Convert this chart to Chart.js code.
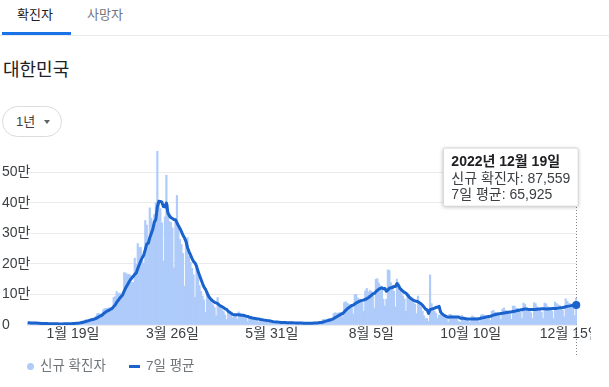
<!DOCTYPE html>
<html lang="ko">
<head>
<meta charset="utf-8">
<title>대한민국 확진자</title>
<script src="https://cdn.jsdelivr.net/npm/chart.js@4.4.1/dist/chart.umd.min.js"></script>
<style>
  html, body { margin: 0; padding: 0; background: #fff; }
  body {
    width: 609px; height: 387px; position: relative; overflow: hidden;
    font-family: Arial, "Noto Sans CJK KR", sans-serif; color: #202124;
  }
  .tabline { position: absolute; left: 0; top: 35px; width: 609px; height: 1px; background: #e8eaed; }
  .tabbar { position: absolute; left: 2px; top: 32px; width: 69px; height: 3px; background: #1a73e8; }
  .tab { position: absolute; top: 6px; font-size: 13px; line-height: 18px; }
  .tab.on { left: 17px; color: #202124; }
  .tab.off { left: 87px; color: #70757a; }
  .region { position: absolute; left: 3px; top: 58px; margin: 0; font-size: 18px; font-weight: normal; line-height: 24px; }
  .range {
    position: absolute; left: 2px; top: 106px; width: 58px; height: 29px;
    border: 1px solid #dadce0; border-radius: 16px; box-sizing: content-box;
  }
  .range span { position: absolute; left: 13px; top: 6px; font-size: 13px; line-height: 17px; color: #3c4043; }
  .range i {
    position: absolute; left: 41px; top: 13px; width: 0; height: 0;
    border-left: 3px solid transparent; border-right: 3px solid transparent; border-top: 4px solid #5f6368;
  }
  #wrap { position: absolute; left: 0; top: 135px; width: 591px; height: 225px; }
  .legend { position: absolute; left: 0; top: 357px; width: 609px; height: 18px; font-size: 13.5px; color: #70757a; }
  .legend .dot { position: absolute; left: 27px; top: 6px; width: 7px; height: 7px; border-radius: 50%; background: #aecbfa; }
  .legend .dash { position: absolute; left: 129px; top: 8px; width: 11px; height: 3px; background: #1a62cc; }
  .legend .lt { position: absolute; top: 0; line-height: 18px; white-space: nowrap; }
</style>
</head>
<body>
<div class="tab on">확진자</div>
<div class="tab off">사망자</div>
<div class="tabline"></div>
<div class="tabbar"></div>
<h1 class="region">대한민국</h1>
<div class="range"><span>1년</span><i></i></div>
<div id="wrap"><canvas id="cases"></canvas></div>
<div class="legend">
  <span class="dot"></span><span class="lt" style="left:40px">신규 확진자</span>
  <span class="dash"></span><span class="lt" style="left:146px">7일 평균</span>
</div>
<script>
// daily new cases, thousands, one value per day from 2021-12-20 to 2022-12-19
const newCases = [
  7.5, 7.5, 6.9, 6.2, 5.8, 5.4, 3.9,
  5.2, 5.4, 5.0, 4.9, 4.4, 3.8, 3.1,
  4.2, 4.4, 4.1, 3.7, 3.5, 3.4, 3.0,
  3.1, 4.4, 4.2, 4.5, 4.4, 4.2, 3.9,
  4.1, 5.8, 6.6, 6.8, 7.0, 7.6, 7.5,
  8.6, 13.0, 14.5, 16.1, 17.5, 17.5, 18.3,
  20.3, 20.9, 22.9, 27.4, 36.4, 38.7, 35.3,
  36.7, 49.6, 54.1, 53.9, 54.9, 56.4, 54.6,
  57.2, 90.4, 93.1, 109.8, 102.2, 104.8, 95.4,
  99.6, 171.5, 170.0, 165.9, 166.2, 163.6, 139.6,
  139.0, 219.2, 198.8, 266.9, 254.3, 254.0, 210.7,
  202.7, 342.4, 327.5, 283.0, 383.7, 350.2, 309.8,
  362.3, 400.7, 621.3, 407.0, 381.5, 334.7, 209.2,
  354.0, 490.9, 395.6, 339.5, 335.6, 318.1, 187.2,
  347.6, 424.6, 320.7, 280.3, 264.2, 234.3, 127.2,
  266.1, 286.3, 224.8, 205.3, 185.6, 164.5, 90.9,
  190.0, 170.0, 130.0, 110.0, 95.0, 82.0, 42.0,
  105.0, 98.0, 80.0, 71.0, 66.0, 57.0, 30.0,
  90.0, 66.0, 58.0, 50.0, 44.0, 33.0, 18.0,
  45.0, 43.0, 37.0, 24.0, 35.0, 33.0, 18.0,
  43.0, 38.0, 31.0, 26.0, 24.0, 22.0, 11.5,
  27.0, 29.0, 21.0, 20.0, 18.5, 16.0, 8.5,
  20.0, 19.0, 16.0, 14.0, 13.0, 10.5, 5.2,
  12.5, 11.5, 8.5, 10.5, 9.5, 8.3, 3.8,
  5.5, 11.0, 10.0, 8.5, 7.2, 6.3, 3.3,
  8.0, 8.5, 7.0, 6.0, 5.8, 5.2, 3.0,
  8.0, 7.8, 6.4, 6.2, 5.4, 5.0, 3.0,
  8.6, 9.2, 8.4, 8.3, 9.3, 8.8, 5.5,
  18.1, 19.3, 18.5, 19.3, 20.4, 20.3, 12.7,
  37.3, 40.3, 39.0, 38.9, 41.3, 40.3, 26.3,
  73.6, 76.4, 71.2, 68.6, 65.4, 65.4, 35.9,
  99.3, 100.3, 88.4, 85.3, 82.0, 73.6, 44.7,
  111.8, 119.9, 107.9, 112.9, 110.7, 105.5, 55.3,
  149.9, 151.8, 137.2, 128.7, 124.6, 85.3, 62.1,
  84.1, 180.8, 178.6, 138.8, 129.4, 110.7, 59.0,
  150.5, 139.3, 113.3, 103.9, 95.6, 85.3, 44.7,
  103.9, 100.3, 81.3, 78.7, 72.6, 68.3, 37.4,
  95.0, 75.0, 60.0, 45.0, 30.0, 20.0, 22.0,
  12.0, 164.0, 70.0, 55.0, 45.0, 38.0, 22.0,
  32.0, 34.0, 29.0, 29.0, 25.0, 22.0, 9.0,
  35.0, 34.0, 29.0, 27.0, 25.0, 22.0, 11.0,
  9.0, 32.0, 27.0, 22.0, 20.0, 18.0, 8.0,
  12.0, 30.0, 26.0, 24.0, 22.0, 19.0, 9.0,
  33.0, 35.0, 32.0, 31.0, 29.0, 26.0, 15.0,
  45.0, 48.0, 42.0, 40.0, 37.0, 31.0, 18.0,
  52.0, 56.0, 48.0, 46.0, 43.0, 36.0, 19.0,
  62.0, 62.0, 55.0, 55.0, 51.0, 43.0, 22.0,
  72.0, 68.0, 55.0, 50.0, 47.0, 40.0, 21.0,
  73.0, 70.0, 60.0, 55.0, 50.0, 42.0, 21.0,
  72.0, 69.0, 60.0, 58.0, 53.0, 45.0, 20.0,
  75.0, 70.0, 66.0, 64.0, 58.0, 48.0, 27.0,
  86.0, 78.0, 72.0, 70.0, 65.0, 58.0, 31.0,
  87.559
];

// 7-day average line, thousands, same days
const avg7 = [
  7.03, 6.97, 6.87, 6.70, 6.49, 6.37, 6.17,
  5.84, 5.54, 5.27, 5.09, 4.89, 4.66, 4.54,
  4.40, 4.26, 4.13, 3.96, 3.83, 3.77, 3.76,
  3.60, 3.60, 3.61, 3.73, 3.86, 3.97, 4.10,
  4.24, 4.44, 4.79, 5.11, 5.49, 5.97, 6.49,
  7.13, 8.16, 9.29, 10.61, 12.11, 13.53, 15.07,
  16.74, 17.87, 19.07, 20.69, 23.39, 26.41, 28.84,
  31.19, 35.29, 39.74, 43.53, 46.17, 48.70, 51.46,
  54.39, 60.21, 65.79, 73.77, 80.53, 87.44, 93.27,
  99.33, 110.91, 121.90, 129.91, 139.06, 147.46, 153.77,
  159.40, 166.21, 170.33, 184.76, 197.34, 210.26, 220.41,
  229.51, 247.11, 265.50, 267.80, 286.29, 300.03, 314.19,
  336.99, 345.31, 387.29, 405.00, 404.69, 402.47, 388.10,
  386.91, 399.80, 367.56, 357.91, 351.36, 348.99, 345.84,
  344.93, 335.46, 324.76, 316.30, 306.10, 294.13, 285.56,
  273.91, 254.16, 240.46, 229.74, 218.51, 208.54, 203.36,
  192.49, 175.87, 162.33, 148.71, 135.77, 123.99, 117.00,
  104.86, 94.57, 87.43, 81.86, 77.71, 74.14, 72.43,
  70.28, 65.71, 62.57, 59.57, 56.43, 53.00, 51.28,
  44.86, 41.57, 38.57, 34.86, 33.57, 33.57, 33.57,
  33.29, 32.57, 31.71, 32.00, 30.43, 28.86, 27.93,
  25.64, 24.36, 22.93, 22.07, 21.29, 20.43, 20.00,
  19.00, 17.57, 16.86, 16.00, 15.21, 14.43, 13.96,
  12.89, 11.81, 10.74, 10.24, 9.74, 9.43, 9.23,
  8.23, 8.16, 8.37, 8.09, 7.76, 7.47, 7.40,
  7.76, 7.40, 6.97, 6.61, 6.41, 6.26, 6.21,
  6.21, 6.11, 6.03, 6.06, 6.00, 5.97, 5.97,
  6.06, 6.26, 6.54, 6.84, 7.40, 7.94, 8.30,
  9.66, 11.10, 12.54, 14.11, 15.70, 17.34, 18.37,
  21.11, 24.11, 27.04, 29.84, 32.83, 35.69, 37.63,
  42.81, 47.97, 52.57, 56.81, 60.26, 63.84, 65.21,
  68.89, 72.30, 74.76, 77.14, 79.51, 80.69, 81.94,
  83.73, 86.53, 89.31, 93.26, 97.36, 101.91, 103.43,
  108.87, 113.43, 117.61, 119.87, 121.86, 118.97, 119.94,
  110.54, 114.69, 120.60, 122.04, 122.73, 126.36, 125.91,
  135.40, 129.47, 120.14, 115.16, 110.33, 106.70, 104.66,
  98.00, 92.43, 87.86, 84.26, 80.97, 78.54, 77.50,
  76.23, 72.61, 69.57, 64.76, 58.67, 51.77, 49.57,
  37.71, 50.43, 51.86, 53.29, 55.43, 58.00, 58.00,
  60.86, 42.29, 36.43, 32.71, 29.86, 27.57, 25.71,
  26.14, 26.14, 26.14, 25.86, 25.86, 25.86, 26.14,
  22.43, 22.14, 21.86, 21.14, 20.43, 19.86, 19.43,
  19.86, 19.57, 19.43, 19.71, 20.00, 20.14, 20.29,
  23.29, 24.00, 24.86, 25.86, 26.86, 27.86, 28.71,
  30.43, 32.29, 33.71, 35.00, 36.14, 36.86, 37.29,
  38.29, 39.43, 40.29, 41.14, 42.00, 42.71, 42.86,
  44.29, 45.14, 46.14, 47.43, 48.57, 49.57, 50.00,
  51.43, 52.29, 52.29, 51.57, 51.00, 50.57, 50.43,
  50.57, 50.86, 51.57, 52.29, 52.71, 53.00, 53.00,
  52.86, 52.71, 52.71, 53.14, 53.57, 54.00, 53.86,
  54.29, 54.43, 55.29, 56.14, 56.86, 57.29, 58.29,
  59.86, 61.00, 61.86, 62.71, 63.71, 65.14, 65.71,
  65.925
];

// x axis: which days carry a label
const tickIndex = [30, 96, 162, 228, 294, 360];
const tickLabels = ['1월 19일', '3월 26일', '5월 31일', '8월 5일', '10월 10일', '12월 15일'];

// y axis in thousands: 100 -> 10만
const yMax = 570;
const yStep = 100;

// one category per day
const days = newCases.map((_, i) => {
  const d = new Date(2021, 11, 20 + i);
  return `${d.getFullYear()}년 ${d.getMonth() + 1}월 ${d.getDate()}일`;
});
const last = newCases.length - 1;

const colors = {
  bar: '#aecbfa',
  line: '#1a62cc',
  grid: '#ebebeb',
  tick: '#3c4043'
};

Chart.defaults.font.family = 'Arial, "Noto Sans CJK KR", sans-serif';
Chart.defaults.font.size = 14;
Chart.defaults.color = colors.tick;

// tooltip pinned at the top, left of the last day
Chart.Tooltip.positioners.pinned = function (items) {
  if (!items.length) return false;
  return { x: items[0].element.x, y: 13 };
};

const cursorLine = {
  id: 'cursorLine',
  beforeDatasetsDraw(chart) {
    const el = chart.getDatasetMeta(1).data[last];
    if (!el) return;
    const ctx = chart.ctx;
    ctx.save();
    ctx.strokeStyle = '#80868b';
    ctx.lineWidth = 1;
    ctx.setLineDash([1, 2]);
    ctx.beginPath();
    ctx.moveTo(Math.round(el.x) + 0.5, 60);
    ctx.lineTo(Math.round(el.x) + 0.5, 222);
    ctx.stroke();
    ctx.restore();
  },
  beforeTooltipDraw(chart, args) {
    const t = args.tooltip;
    const ctx = chart.ctx;
    ctx.save();
    ctx.shadowColor = 'rgba(0,0,0,0.28)';
    ctx.shadowBlur = 4;
    ctx.shadowOffsetY = 1;
    ctx.fillStyle = '#fff';
    ctx.fillRect(t.x, t.y, t.width, t.height);
    ctx.restore();
  }
};

const chart = new Chart(document.getElementById('cases'), {
  type: 'bar',
  data: {
    labels: days,
    datasets: [{
      type: 'bar',
      label: '신규 확진자',
      data: newCases,
      backgroundColor: colors.bar,
      barPercentage: 1,
      categoryPercentage: 1,
      order: 1
    }, {
      type: 'line',
      label: '7일 평균',
      data: avg7,
      borderColor: colors.line,
      backgroundColor: colors.line,
      borderWidth: 3,
      borderJoinStyle: 'round',
      tension: 0,
      pointRadius: ctx => ctx.dataIndex === last ? 4 : 0,
      pointBorderWidth: 0,
      order: 0
    }]
  },
  options: {
    responsive: true,
    maintainAspectRatio: false,
    animation: false,
    events: [],
    layout: { padding: { left: 27, right: 14, top: 16, bottom: 0 } },
    plugins: {
      legend: { display: false },
      tooltip: {
        position: 'pinned',
        xAlign: 'right',
        yAlign: 'top',
        caretSize: 0,
        caretPadding: 0,
        cornerRadius: 2,
        backgroundColor: '#fff',
        borderColor: '#d6d6d6',
        borderWidth: 1,
        titleColor: '#202124',
        bodyColor: '#3c4043',
        titleFont: { size: 14, weight: 'bold', lineHeight: 1.2 },
        bodyFont: { size: 14, lineHeight: 1.1 },
        titleMarginBottom: 1,
        bodySpacing: 0.6,
        padding: { top: 6, bottom: 3, left: 8, right: 8 },
        displayColors: false,
        callbacks: {
          title: items => days[items[0].dataIndex],
          label: ctx => `${ctx.dataset.label}: ${Math.round(ctx.parsed.y * 1000).toLocaleString('en-US')}`
        }
      }
    },
    scales: {
      x: {
        grid: { display: false, drawTicks: false },
        border: { display: false },
        ticks: {
          autoSkip: false,
          maxRotation: 0,
          minRotation: 0,
          padding: 1,
          callback: (v, i) => {
            const k = tickIndex.indexOf(i);
            return k < 0 ? '' : tickLabels[k];
          }
        },
        afterFit: s => { s.height = 35; }
      },
      y: {
        min: 0,
        max: yMax,
        grid: { color: colors.grid, drawTicks: false },
        border: { display: false },
        ticks: {
          stepSize: yStep,
          mirror: true,
          padding: -25,
          callback: v => v === 0 ? '0' : (v / 10) + '만'
        },
        afterBuildTicks: s => { s.ticks = s.ticks.filter(t => t.value % yStep === 0); },
        afterFit: s => { s.width = 0; }
      }
    }
  },
  plugins: [cursorLine]
});

chart.tooltip.setActiveElements(
  [{ datasetIndex: 0, index: last }, { datasetIndex: 1, index: last }],
  { x: 0, y: 0 }
);
chart.update();
</script>
</body>
</html>
